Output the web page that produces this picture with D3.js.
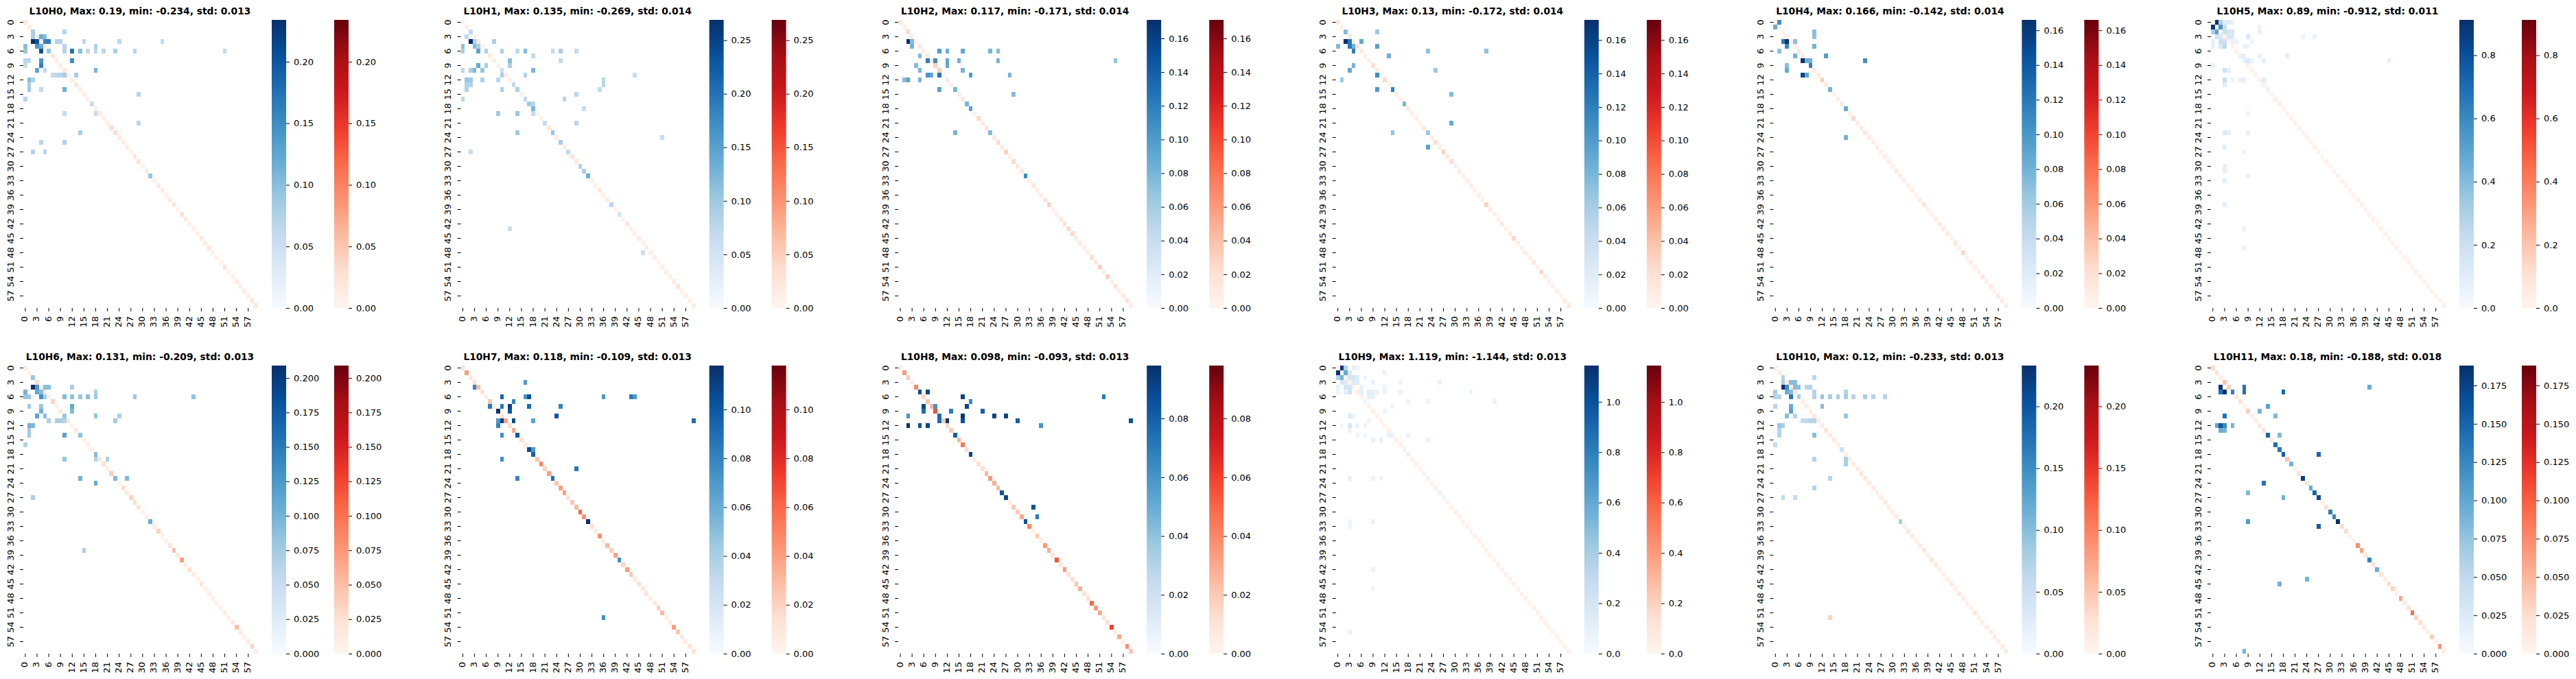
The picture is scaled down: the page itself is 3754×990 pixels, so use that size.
<!DOCTYPE html>
<html>
<head>
<meta charset="utf-8">
<script src="https://cdn.jsdelivr.net/npm/d3@7"></script>
<style>
  body { margin: 0; background: #fff; }
  text { font-family: "DejaVu Sans", sans-serif; fill: #000; }
</style>
</head>
<body>
<svg id="fig" width="3754" height="990"></svg>
<script>
const heads = ['L10H0', 'L10H1', 'L10H2', 'L10H3', 'L10H4', 'L10H5', 'L10H6', 'L10H7', 'L10H8', 'L10H9', 'L10H10', 'L10H11'];
const maxVals = [0.19, 0.135, 0.117, 0.13, 0.166, 0.89, 0.131, 0.118, 0.098, 1.119, 0.12, 0.18];
const minVals = [-0.234, -0.269, -0.171, -0.172, -0.142, -0.912, -0.209, -0.109, -0.093, -1.144, -0.233, -0.188];
const stdVals = [0.013, 0.014, 0.014, 0.014, 0.014, 0.011, 0.013, 0.013, 0.013, 0.013, 0.013, 0.018];

// colorbar tick labels per panel
const cbarTicks = [
  ['0.00', '0.05', '0.10', '0.15', '0.20'],
  ['0.00', '0.05', '0.10', '0.15', '0.20', '0.25'],
  ['0.00', '0.02', '0.04', '0.06', '0.08', '0.10', '0.12', '0.14', '0.16'],
  ['0.00', '0.02', '0.04', '0.06', '0.08', '0.10', '0.12', '0.14', '0.16'],
  ['0.00', '0.02', '0.04', '0.06', '0.08', '0.10', '0.12', '0.14', '0.16'],
  ['0.0', '0.2', '0.4', '0.6', '0.8'],
  ['0.000', '0.025', '0.050', '0.075', '0.100', '0.125', '0.150', '0.175', '0.200'],
  ['0.00', '0.02', '0.04', '0.06', '0.08', '0.10'],
  ['0.00', '0.02', '0.04', '0.06', '0.08'],
  ['0.0', '0.2', '0.4', '0.6', '0.8', '1.0'],
  ['0.00', '0.05', '0.10', '0.15', '0.20'],
  ['0.000', '0.025', '0.050', '0.075', '0.100', '0.125', '0.150', '0.175']
];

// diagonal cells drawn in reds, 0 means the cell is blue or empty
const redsH0 = [.02,.01,0,.015,.015,.02,0,.02,.01,.01,.02,.01,.01,.02,.012,.01,.008,0,.008,.015,.01,.01,.03,.03,.012,.015,.01,.005,.015,.02,.005,.012,0,.006,.015,.015,.005,.012,.02,.006,.025,.02,.01,.008,.006,.02,.01,.02,.006,.008,.005,.025,.005,.006,.012,.012,.015,.008,.02,.02];
const redsH1 = [.01,.005,0,.012,.025,.005,0,.015,.015,.008,0,.015,.01,0,0,.008,0,0,0,.005,.008,0,.02,0,.012,0,.015,0,.025,.02,0,0,0,.012,.008,.02,.01,.012,0,.006,0,.005,.025,.012,.012,.02,.006,.012,.008,.012,.006,.015,.012,.012,.015,.03,.006,.01,.006,.012];
const redsH2 = [.015,.006,.025,.01,.006,.015,.006,.012,.015,.03,.03,.006,.012,.006,0,.01,.012,0,0,.005,.025,.008,.015,0,.012,.025,.01,.03,.008,.025,.012,.012,0,.006,.012,.006,.006,.015,.03,.003,.006,.012,.02,.025,.025,.01,.012,.008,.005,.02,.012,.03,.008,.03,.006,.02,.006,.012,.02,.006];
const redsH3 = [.012,.004,0,.012,.008,.02,.012,.006,.005,.02,.008,.008,.025,.005,0,.01,.004,0,.008,.005,.005,.005,.012,0,.01,.02,.006,.03,.01,.02,.005,.012,.005,.008,.008,.004,.005,.004,.03,.01,.006,.006,.012,.004,.012,.025,.006,.006,.006,.004,.01,.005,.025,.01,.006,.004,.006,.006,.01,.012];
const redsH4 = [.006,.006,.004,.006,.004,.008,.015,.01,0,0,.01,.01,.03,.01,0,.004,.01,.008,0,.006,.025,.008,.01,.015,.01,.005,.008,.004,.008,.01,.004,.01,.01,.005,.005,.008,.004,.008,.015,.006,.004,.006,.012,.006,.012,.003,.015,.005,.025,.004,.006,.004,.003,.015,.006,.01,.003,.012,.01,.008];
const redsH5 = [.01,.02,.01,.03,.02,.03,.02,0,0,.03,.02,.02,.02,.02,0,.02,.02,.02,.02,.02,.02,.02,.02,.02,.02,.02,.02,.02,.02,.02,.02,.02,.02,.02,.02,.02,.02,.02,.02,.02,.02,.02,.02,.02,.02,.02,.02,.02,.02,.02,.02,.02,.02,.02,.02,.02,.02,.02,.02,.02];
const redsH6 = [.008,.006,0,.03,.012,.02,.006,.035,.005,.015,0,.015,.006,.015,0,.006,.005,.008,0,.02,.025,.006,.04,0,.005,.03,.015,.035,.025,.02,.006,.01,0,.012,.035,.006,.005,.02,.05,.015,.07,.008,.025,.012,.005,.02,.005,.01,.006,.006,.005,.012,.006,.012,.05,.015,.006,.012,.035,.012];
const redsH7 = [.012,.04,.012,.015,.03,.012,.004,.025,.005,0,.012,.04,.015,.035,0,.015,.01,0,0,.025,.05,.02,.04,0,.025,.04,.04,.012,.025,.03,.06,.045,0,.015,.006,.045,.006,.03,.022,.04,0,.02,.04,.025,.01,.015,.01,.012,.005,.008,.022,.03,.006,.008,.04,.025,.008,.008,.012,.012];
const redsH8 = [.006,.035,.02,.005,.04,0,.015,.022,.025,.055,0,.02,.015,.02,0,.025,.045,.012,0,.005,.012,.012,.025,.035,.028,.025,0,0,.006,.02,.02,.03,0,.04,.003,.02,.004,.035,.028,.01,.055,.008,.035,.012,.012,.022,.028,.01,.012,.05,.035,.03,.01,.012,.06,.005,.03,.003,.038,.02];
const redsH9 = [.02,.03,.03,.04,.02,.04,.03,0,.03,.05,.03,.03,.03,.03,0,.04,.03,0,0,.03,.03,.03,.03,0,.03,.03,0,0,.03,.03,.03,.03,.03,.03,.03,.03,.03,.03,.03,.03,.03,.03,.03,.03,.03,.03,.03,.03,.03,.03,.03,.03,.03,.03,.03,.03,.03,.03,.03,.03];
const redsH10 = [.01,.008,0,.015,.015,.02,.008,.012,.012,.01,.02,.012,.012,.02,.012,.012,.01,0,.008,.012,.01,.012,.025,.02,.012,.015,.012,.01,.012,.015,.008,.012,0,.008,.015,.012,.008,.012,.02,.008,.02,.015,.01,.008,.008,.015,.01,.015,.008,.008,.008,.02,.008,.008,.012,.012,.012,.01,.015,.015];
const redsH11 = [.025,.02,.01,.04,.035,0,.012,.02,.006,.035,.005,.008,.015,.015,0,.012,0,0,0,.04,0,.005,.02,0,.015,0,0,0,.008,.02,0,0,0,.025,.025,.005,.005,.075,.06,.015,0,.02,0,.02,.005,.025,.03,.008,.06,.012,.02,.09,.03,.025,.012,.008,.035,.006,.07,.008];
const allReds = [redsH0, redsH1, redsH2, redsH3, redsH4, redsH5, redsH6, redsH7, redsH8, redsH9, redsH10, redsH11];

// [row, col, value]
const bluesH0 = [[2,2,.08],[2,10,.07],[3,2,.08],[3,4,.12],[3,5,.1],[4,2,.234],[4,3,.2],[4,5,.16],[4,6,.165],[4,8,.07],[4,9,.07],[4,15,.065],[4,24,.065],[4,35,.06],[5,0,.1],[5,3,.14],[5,4,.12],[5,10,.07],[5,18,.08],[6,0,.09],[6,4,.205],[6,6,.09],[6,10,.07],[6,12,.175],[6,14,.1],[6,16,.06],[6,18,.065],[6,20,.065],[6,23,.08],[6,28,.07],[6,51,.06],[8,0,.065],[8,1,.065],[8,4,.14],[8,12,.15],[9,0,.055],[9,4,.16],[10,3,.125],[10,5,.06],[10,18,.11],[11,7,.06],[11,8,.065],[11,9,.07],[11,10,.08],[11,13,.08],[12,1,.1],[12,2,.075],[13,1,.08],[14,1,.085],[14,4,.06],[14,10,.115],[15,29,.07],[16,0,.07],[17,17,.055],[19,10,.06],[19,18,.06],[21,29,.065],[23,14,.08],[25,4,.065],[25,10,.075],[27,2,.07],[27,5,.065],[32,32,.09]];
const bluesH1 = [[2,2,.07],[3,1,.07],[4,2,.269],[4,3,.09],[4,8,.09],[5,0,.11],[5,3,.12],[5,4,.09],[6,0,.09],[6,4,.145],[6,6,.09],[6,10,.09],[6,14,.07],[6,16,.12],[6,23,.07],[6,25,.09],[6,29,.07],[7,18,.07],[8,12,.115],[8,25,.07],[9,4,.14],[9,6,.095],[9,12,.09],[10,0,.075],[10,2,.09],[10,3,.12],[10,5,.105],[10,10,.06],[10,18,.125],[11,10,.09],[11,16,.085],[11,44,.065],[12,1,.105],[12,2,.1],[12,5,.085],[12,9,.075],[12,36,.075],[13,1,.085],[13,2,.085],[13,13,.07],[13,36,.08],[14,1,.085],[14,10,.09],[14,14,.09],[14,35,.07],[15,29,.075],[16,0,.075],[16,16,.07],[16,26,.08],[17,17,.1],[17,18,.075],[18,18,.125],[18,31,.065],[19,9,.1],[19,14,.105],[19,18,.065],[21,21,.065],[21,29,.075],[23,14,.1],[23,23,.105],[24,51,.065],[25,25,.09],[27,2,.065],[27,27,.07],[30,30,.085],[31,31,.09],[32,32,.135],[38,38,.075],[40,40,.05],[43,12,.06],[48,46,.06]];
const bluesH2 = [[4,2,.171],[4,3,.075],[5,3,.08],[6,10,.1],[6,12,.085],[6,16,.09],[6,23,.08],[6,25,.075],[7,5,.075],[8,7,.12],[8,9,.11],[8,12,.09],[8,15,.085],[8,25,.08],[8,55,.07],[9,4,.075],[9,12,.09],[10,5,.08],[10,16,.08],[11,7,.105],[11,8,.09],[11,10,.125],[11,18,.1],[11,28,.08],[12,1,.075],[12,2,.095],[12,5,.08],[14,10,.095],[14,14,.08],[15,29,.075],[17,17,.08],[18,18,.095],[23,14,.08],[23,23,.075],[32,32,.11]];
const bluesH3 = [[2,2,.075],[2,10,.065],[4,2,.172],[4,3,.125],[4,6,.09],[5,0,.075],[5,3,.125],[5,4,.085],[5,10,.095],[6,4,.12],[6,23,.07],[6,38,.07],[7,13,.085],[9,4,.08],[10,3,.09],[10,25,.065],[11,10,.11],[12,1,.065],[14,10,.1],[14,14,.12],[15,29,.075],[17,17,.08],[21,29,.09],[23,14,.07],[23,23,.065],[26,23,.095]];
const bluesH4 = [[0,1,.105],[1,0,.085],[2,10,.07],[3,10,.07],[4,2,.12],[4,3,.166],[4,5,.07],[5,3,.11],[5,10,.08],[6,1,.07],[7,5,.08],[7,13,.095],[8,7,.166],[8,8,.085],[8,9,.08],[8,23,.105],[9,3,.07],[9,9,.115],[10,3,.085],[11,7,.15],[11,8,.09],[14,14,.08],[18,18,.085],[24,18,.08]];
const bluesH5 = [[0,1,.912],[0,2,.3],[0,3,.1],[0,4,.1],[0,5,.06],[1,0,.88],[1,2,.55],[1,3,.2],[1,12,.06],[2,0,.3],[2,1,.5],[2,3,.2],[2,4,.15],[2,5,.15],[2,12,.07],[3,1,.18],[3,2,.15],[3,4,.15],[3,5,.13],[3,9,.13],[3,23,.06],[3,26,.06],[4,0,.08],[4,2,.2],[4,3,.2],[4,5,.06],[4,6,.06],[4,10,.05],[5,0,.08],[5,2,.12],[5,3,.25],[5,8,.06],[5,9,.06],[7,7,.07],[7,8,.07],[7,12,.07],[7,19,.08],[8,8,.08],[8,9,.12],[8,10,.06],[8,13,.08],[8,45,.08],[9,0,.07],[10,3,.17],[10,4,.07],[12,3,.2],[12,5,.07],[12,7,.07],[12,8,.07],[12,13,.1],[13,3,.1],[14,14,.06],[19,9,.06],[23,3,.12],[23,4,.07],[23,9,.07],[26,3,.1],[27,8,.06],[30,3,.07],[31,3,.07],[32,9,.06],[33,3,.1],[38,3,.08],[43,8,.06],[47,8,.07]];
const bluesH6 = [[2,2,.08],[4,2,.209],[4,3,.125],[4,5,.09],[4,6,.09],[4,12,.07],[5,0,.1],[5,3,.11],[5,4,.09],[5,18,.07],[6,0,.08],[6,1,.08],[6,4,.13],[6,5,.07],[6,10,.095],[6,12,.085],[6,14,.08],[6,16,.09],[6,18,.08],[6,28,.08],[6,43,.085],[8,1,.075],[8,4,.08],[8,12,.11],[9,4,.1],[9,12,.095],[10,3,.115],[10,5,.09],[10,10,.08],[10,18,.085],[10,24,.07],[11,6,.07],[11,8,.07],[11,9,.07],[11,10,.065],[11,23,.075],[12,1,.1],[12,2,.095],[13,1,.075],[14,1,.075],[14,10,.115],[14,14,.085],[16,0,.065],[18,18,.09],[19,10,.08],[19,18,.065],[19,21,.07],[23,14,.1],[23,23,.095],[23,26,.095],[24,18,.11],[27,2,.07],[32,32,.105],[38,15,.07]];
const bluesH7 = [[3,16,.07],[4,3,.08],[6,10,.095],[6,16,.07],[6,17,.105],[6,36,.07],[6,43,.085],[6,44,.07],[7,13,.08],[8,7,.085],[8,10,.085],[8,12,.11],[8,17,.09],[8,25,.08],[9,9,.118],[9,12,.1],[10,24,.1],[11,9,.07],[11,10,.115],[11,13,.105],[11,18,.065],[11,59,.09],[12,9,.08],[14,10,.075],[14,14,.1],[17,17,.105],[17,18,.07],[18,18,.095],[19,10,.075],[21,29,.085],[23,14,.08],[23,23,.09],[32,32,.118],[40,40,.075],[52,36,.075]];
const bluesH8 = [[5,5,.088],[5,7,.09],[6,16,.09],[6,52,.07],[7,18,.065],[8,6,.09],[8,9,.06],[8,17,.09],[9,6,.075],[9,13,.07],[9,21,.08],[10,2,.06],[10,10,.075],[10,16,.095],[10,24,.09],[10,27,.09],[11,10,.075],[11,12,.095],[11,16,.085],[11,30,.08],[11,59,.085],[12,2,.098],[12,5,.085],[12,7,.09],[12,36,.06],[14,14,.08],[18,18,.09],[26,26,.085],[27,27,.09],[29,34,.085],[31,35,.07],[32,32,.085]];
const bluesH9 = [[0,1,1.1],[0,2,.35],[0,4,.1],[0,5,.06],[1,0,1.144],[1,2,.6],[1,3,.15],[1,12,.08],[2,0,.35],[2,1,.55],[2,3,.2],[2,4,.2],[2,5,.15],[2,7,.06],[3,1,.18],[3,2,.15],[3,4,.15],[3,5,.13],[3,9,.08],[3,16,.06],[3,26,.08],[4,0,.08],[4,2,.2],[4,3,.2],[4,6,.08],[4,12,.06],[5,0,.06],[5,2,.1],[5,3,.22],[5,6,.1],[5,8,.12],[5,9,.08],[5,10,.06],[5,12,.07],[5,16,.07],[5,34,.08],[6,8,.1],[6,9,.09],[7,7,.07],[7,18,.08],[7,23,.06],[7,40,.07],[8,14,.07],[9,12,.07],[10,3,.15],[10,4,.07],[11,8,.06],[12,1,.05],[12,3,.2],[12,5,.07],[12,7,.06],[13,3,.07],[14,5,.06],[14,7,.06],[14,13,.09],[14,14,.08],[14,18,.06],[15,9,.08],[15,11,.08],[15,23,.06],[17,17,.07],[18,18,.1],[23,3,.09],[23,9,.07],[23,11,.07],[23,23,.08],[26,26,.08],[27,27,.06],[32,3,.06],[32,9,.08],[33,3,.06],[42,9,.07],[46,9,.06],[55,3,.08]];
const bluesH10 = [[2,2,.07],[2,10,.065],[3,2,.08],[3,4,.1],[3,5,.1],[4,2,.233],[4,3,.15],[4,5,.1],[4,6,.1],[4,8,.07],[4,9,.07],[5,0,.08],[5,3,.12],[5,4,.1],[5,10,.07],[5,18,.07],[6,0,.07],[6,1,.07],[6,4,.17],[6,6,.08],[6,10,.07],[6,12,.09],[6,14,.08],[6,16,.08],[6,18,.08],[6,20,.07],[6,23,.08],[6,25,.07],[6,28,.07],[8,0,.065],[8,4,.12],[8,12,.1],[9,4,.13],[10,3,.1],[10,5,.07],[10,18,.09],[11,7,.06],[11,8,.06],[11,9,.07],[11,10,.07],[12,1,.09],[12,2,.08],[13,1,.07],[14,1,.07],[14,10,.1],[16,0,.06],[17,17,.05],[19,10,.07],[19,18,.08],[20,18,.08],[23,14,.07],[25,10,.07],[27,2,.06],[27,5,.06],[32,32,.08]];
const bluesH11 = [[4,2,.185],[4,8,.14],[4,40,.095],[5,2,.14],[5,3,.188],[5,5,.13],[5,8,.14],[5,18,.15],[8,14,.105],[9,12,.09],[10,3,.14],[10,16,.085],[12,1,.1],[12,2,.16],[12,3,.125],[12,5,.09],[13,2,.095],[13,3,.09],[14,14,.15],[14,17,.085],[16,16,.145],[17,17,.14],[18,18,.155],[18,27,.15],[20,20,.09],[23,23,.175],[24,13,.14],[25,25,.095],[26,9,.085],[26,26,.15],[27,18,.09],[27,27,.17],[30,30,.13],[31,31,.125],[32,9,.11],[32,32,.188],[33,27,.155],[40,40,.13],[42,42,.095],[44,24,.09],[45,17,.09],[59,8,.09]];
const allBlues = [bluesH0, bluesH1, bluesH2, bluesH3, bluesH4, bluesH5, bluesH6, bluesH7, bluesH8, bluesH9, bluesH10, bluesH11];

// red cells off the diagonal
const extraReds = { 10: [[52, 14, .04]] };

const svg = d3.select('#fig');
const stepX = 637.6;
const rowTop = [29, 533];
const mapW = 342;
const mapH = 420;
const cbarW = 21;
const cells = d3.range(60);
const tickCells = d3.range(0, 60, 3);

const ramp = scheme => {
  const s = d3.scaleLinear().domain(d3.range(9).map(i => i / 8)).range(scheme).clamp(true);
  return v => s(v);
};
const blueRamp = ramp(d3.schemeBlues[9]);
const redRamp = ramp(d3.schemeReds[9]);

const defs = svg.append('defs');
[['blueGrad', blueRamp], ['redGrad', redRamp]].forEach(([id, f]) => {
  const g = defs.append('linearGradient').attr('id', id)
    .attr('x1', 0).attr('y1', 1).attr('x2', 0).attr('y2', 0);
  d3.range(0, 1.001, 0.125).forEach(t => {
    g.append('stop').attr('offset', t).attr('stop-color', f(t));
  });
});

heads.forEach((head, p) => {
  const col = p % 6;
  const row = Math.floor(p / 6);
  const left = 34 + stepX * col;
  const top = rowTop[row];
  const vmax = Math.max(Math.abs(maxVals[p]), Math.abs(minVals[p]));
  const g = svg.append('g').attr('transform', `translate(${left},${top})`);

  const x = d3.scaleBand().domain(cells).range([0, mapW]);
  const y = d3.scaleBand().domain(cells).range([0, mapH]);
  const norm = d3.scaleLinear().domain([0, vmax]).range([0, 1]);

  const diag = allReds[p].map((v, i) => [i, i, v]).filter(d => d[2] > 0)
    .concat(extraReds[p] || []);

  g.selectAll('rect.red').data(diag).enter().append('rect')
    .attr('class', 'red')
    .attr('x', d => x(d[1]))
    .attr('y', d => y(d[0]))
    .attr('width', x.bandwidth())
    .attr('height', y.bandwidth())
    .attr('shape-rendering', 'crispEdges')
    .attr('fill', d => redRamp(norm(d[2])));

  g.selectAll('rect.blue').data(allBlues[p]).enter().append('rect')
    .attr('class', 'blue')
    .attr('x', d => x(d[1]))
    .attr('y', d => y(d[0]))
    .attr('width', x.bandwidth())
    .attr('height', y.bandwidth())
    .attr('shape-rendering', 'crispEdges')
    .attr('fill', d => blueRamp(norm(d[2])));

  const xAxis = g.append('g').attr('transform', `translate(0,${mapH})`)
    .call(d3.axisBottom(x).tickValues(tickCells).tickSize(5).tickPadding(7));
  xAxis.select('.domain').remove();
  xAxis.selectAll('text')
    .attr('font-size', 13)
    .attr('text-anchor', 'end')
    .attr('dy', 0)
    .attr('transform', function () { return `rotate(-90,0,${this.getAttribute('y')})`; })
    .attr('dominant-baseline', 'middle');

  const yAxis = g.append('g')
    .call(d3.axisLeft(y).tickValues(tickCells).tickSize(5).tickPadding(7));
  yAxis.select('.domain').remove();
  yAxis.selectAll('text')
    .attr('font-size', 13)
    .attr('text-anchor', 'middle')
    .attr('x', -18)
    .attr('dy', 0)
    .attr('dominant-baseline', 'middle')
    .attr('transform', 'rotate(-90,-18,0)');

  g.append('text')
    .attr('x', mapW / 2 - 1)
    .attr('y', -8)
    .attr('text-anchor', 'middle')
    .attr('font-size', 13.8)
    .attr('font-weight', 'bold')
    .text(`${head}, Max: ${maxVals[p]}, min: ${minVals[p]}, std: ${stdVals[p]}`);

  const cy = d3.scaleLinear().domain([0, vmax]).range([mapH, 0]);
  [[362, 'blueGrad'], [453, 'redGrad']].forEach(([dx, grad]) => {
    const c = g.append('g').attr('transform', `translate(${dx},0)`);
    c.append('rect').attr('width', cbarW).attr('height', mapH).attr('fill', `url(#${grad})`);
    const ax = c.append('g').attr('transform', `translate(${cbarW},0)`)
      .call(d3.axisRight(cy).tickValues(cbarTicks[p].map(Number))
        .tickFormat((d, i) => cbarTicks[p][i]).tickSize(5).tickPadding(6));
    ax.select('.domain').remove();
    ax.selectAll('text').attr('font-size', 13);
  });
});
</script>
</body>
</html>
